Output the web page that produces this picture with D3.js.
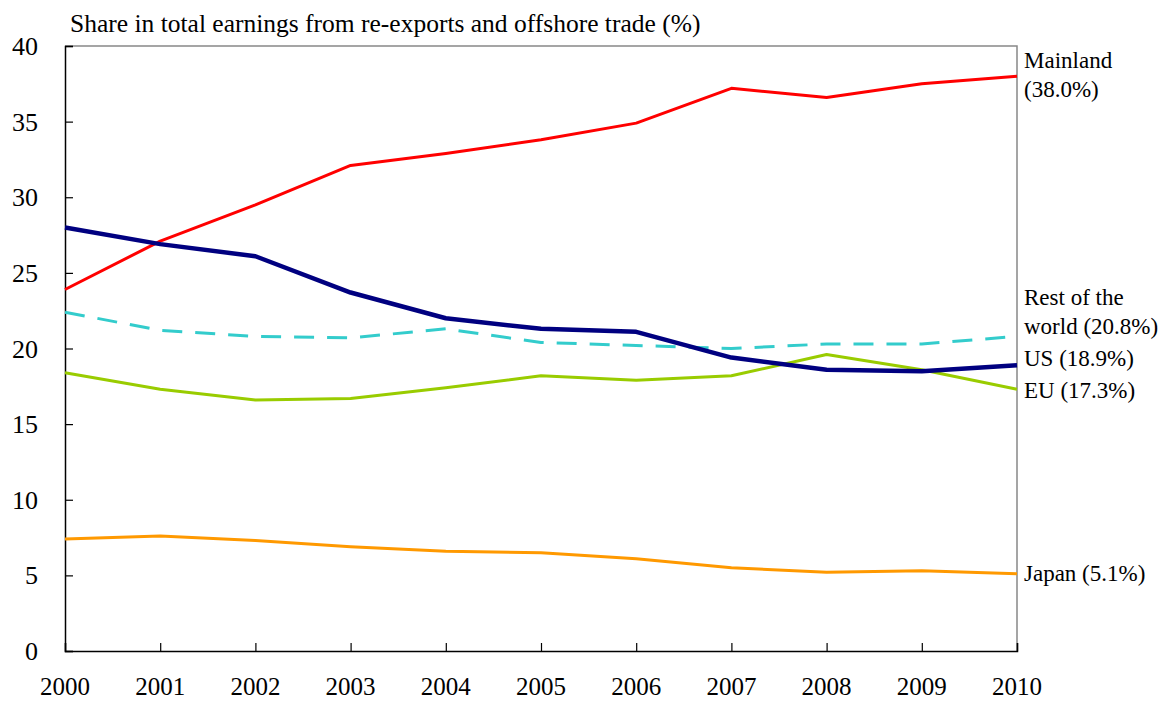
<!DOCTYPE html>
<html>
<head>
<meta charset="utf-8">
<script src="https://cdn.jsdelivr.net/npm/d3@7/dist/d3.min.js"></script>
<style>
  body { margin: 0; background: #fff; }
  svg text { font-family: "Liberation Serif", "Times New Roman", serif; fill: #000; }
</style>
</head>
<body>
<div id="chart"></div>
<script>
// data
var years = [2000, 2001, 2002, 2003, 2004, 2005, 2006, 2007, 2008, 2009, 2010]
var mainland = [23.9, 27.1, 29.5, 32.1, 32.9, 33.8, 34.9, 37.2, 36.6, 37.5, 38.0]
var us = [28.0, 26.9, 26.1, 23.7, 22.0, 21.3, 21.1, 19.4, 18.6, 18.5, 18.9]
var restOfWorld = [22.4, 21.2, 20.8, 20.7, 21.3, 20.4, 20.2, 20.0, 20.3, 20.3, 20.8]
var eu = [18.4, 17.3, 16.6, 16.7, 17.4, 18.2, 17.9, 18.2, 19.6, 18.6, 17.3]
var japan = [7.4, 7.6, 7.3, 6.9, 6.6, 6.5, 6.1, 5.5, 5.2, 5.3, 5.1]
var yTicks = [0, 5, 10, 15, 20, 25, 30, 35, 40]

var series = [
  { name: "Rest of the world", values: restOfWorld, color: "#33cccc", width: 3, dash: "20,13", label: ["Rest of the", "world (20.8%)"], labelY: [297, 326] },
  { name: "EU", values: eu, color: "#99cc00", width: 3, dash: null, label: ["EU (17.3%)"], labelY: [390] },
  { name: "Japan", values: japan, color: "#ff9900", width: 3, dash: null, label: ["Japan (5.1%)"], labelY: [573] },
  { name: "Mainland", values: mainland, color: "#ff0000", width: 3, dash: null, label: ["Mainland", "(38.0%)"], labelY: [60, 89] },
  { name: "US", values: us, color: "#000080", width: 4.5, dash: null, label: ["US (18.9%)"], labelY: [358] }
]

var width = 1167, height = 702
var margin = { top: 46, right: 150, bottom: 51, left: 65 }

var svg = d3.select("#chart").append("svg")
    .attr("width", width)
    .attr("height", height)

var x = d3.scaleLinear().domain([2000, 2010]).range([margin.left, width - margin.right])
var y = d3.scaleLinear().domain([0, 40]).range([height - margin.bottom, margin.top])

// frame (top and right in gray)
svg.append("path")
    .attr("d", "M" + x(2000) + "," + y(40) + "H" + x(2010) + "V" + y(0))
    .attr("fill", "none")
    .attr("stroke", "#888")
    .attr("stroke-width", 1.5)

// y axis, ticks pointing inward
var yAxis = svg.append("g")
    .attr("transform", "translate(" + x(2000) + ",0)")
    .call(d3.axisRight(y).tickValues(yTicks).tickSize(8).tickFormat(""))
yAxis.select(".domain").attr("stroke", "#000").attr("stroke-width", 1.5)
yAxis.selectAll(".tick line").attr("stroke", "#000").attr("stroke-width", 1.2)

svg.append("g").selectAll("text")
    .data(yTicks)
    .join("text")
    .attr("x", 38)
    .attr("y", d => y(d))
    .attr("dy", "0.35em")
    .attr("text-anchor", "end")
    .attr("font-size", 26)
    .text(d => d)

// x axis, ticks pointing up
var xAxis = svg.append("g")
    .attr("transform", "translate(0," + y(0) + ")")
    .call(d3.axisTop(x).tickValues(years).tickSize(8).tickFormat(""))
xAxis.select(".domain").attr("stroke", "#000").attr("stroke-width", 1.5)
xAxis.selectAll(".tick line").attr("stroke", "#000").attr("stroke-width", 1.2)

svg.append("g").selectAll("text")
    .data(years)
    .join("text")
    .attr("x", d => x(d))
    .attr("y", 686)
    .attr("dy", "0.35em")
    .attr("text-anchor", "middle")
    .attr("font-size", 25)
    .text(d => d)

// title
svg.append("text")
    .attr("x", 70)
    .attr("y", 32)
    .attr("font-size", 25.5)
    .text("Share in total earnings from re-exports and offshore trade (%)")

// lines
var line = d3.line()
    .x((d, i) => x(years[i]))
    .y(d => y(d))

svg.append("g").selectAll("path")
    .data(series)
    .join("path")
    .attr("d", d => line(d.values))
    .attr("fill", "none")
    .attr("stroke", d => d.color)
    .attr("stroke-width", d => d.width)
    .attr("stroke-dasharray", d => d.dash)
    .attr("stroke-linejoin", "round")

// right-hand labels
series.forEach(function(s){
  s.label.forEach(function(t, i){
    svg.append("text")
        .attr("x", 1024)
        .attr("y", s.labelY[i])
        .attr("dy", "0.35em")
        .attr("font-size", 23)
        .text(t)
  })
})
</script>
</body>
</html>
